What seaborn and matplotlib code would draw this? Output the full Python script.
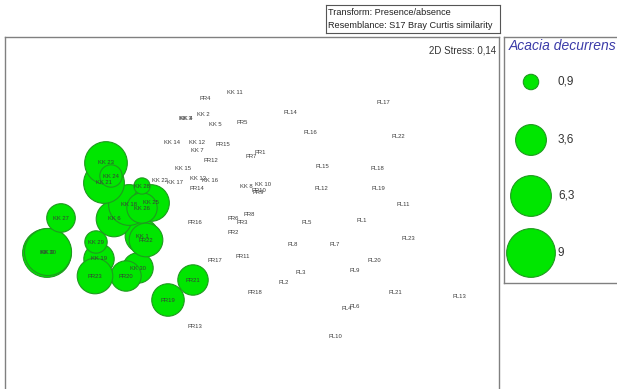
import matplotlib
matplotlib.use("Agg")
import matplotlib.pyplot as plt
import seaborn as sns
import pandas as pd

sns.set_theme(style="white")
plt.rcParams["font.family"] = ["Liberation Sans", "DejaVu Sans"]

# nMDS ordination coordinates (arbitrary units) and Acacia decurrens abundance
samples = ["KK 1", "KK 2", "KK 3", "KK 4", "KK 5", "KK 6", "KK 7", "KK 8", "KK 9", "KK 10",
           "KK 11", "KK 12", "KK 13", "KK 14", "KK 15", "KK 16", "KK 17", "KK 18", "KK 19", "KK 20",
           "KK 21", "KK 22", "KK 23", "KK 24", "KK 25", "KK 26", "KK 27", "KK 28", "KK 29", "KK 30",
           "PR1", "PR2", "PR3", "PR4", "PR5", "PR6", "PR7", "PR8", "PR9", "PR10",
           "PR11", "PR12", "PR13", "PR14", "PR15", "PR16", "PR17", "PR18", "PR19", "PR20",
           "PR21", "PR22", "PR23",
           "PL1", "PL2", "PL3", "PL4", "PL5", "PL6", "PL7", "PL8", "PL9", "PL10",
           "PL11", "PL12", "PL13", "PL14", "PL15", "PL16", "PL17", "PL18", "PL19", "PL20",
           "PL21", "PL22", "PL23"]
mds1 = [137, 198, 180, 181, 210, 109, 192, 241, 42, 258,
        230, 192, 193, 167, 178, 205, 170, 124, 94, 43,
        99, 155, 101, 106, 146, 137, 56, 137, 91, 133,
        255, 228, 237, 200, 237, 228, 246, 244, 253, 254,
        238, 206, 190, 192, 218, 190, 210, 250, 163, 121,
        188, 141, 90,
        357, 279, 296, 342, 302, 350, 330, 288, 350, 330,
        398, 316, 454, 285, 317, 305, 378, 372, 373, 369,
        390, 393, 403]
mds2 = [153, 275, 271, 271, 265, 170, 238, 202, 136, 205,
        297, 246, 211, 247, 221, 208, 207, 184, 130, 137,
        206, 209, 226, 213, 186, 181, 171, 203, 147, 121,
        237, 156, 166, 291, 266, 171, 232, 175, 196, 198,
        132, 229, 62, 200, 245, 166, 129, 96, 89, 113,
        109, 149, 113,
        169, 106, 116, 80, 166, 82, 144, 144, 118, 53,
        184, 200, 92, 276, 223, 257, 286, 220, 200, 129,
        96, 253, 150]
acacia = [4.3, 0, 0, 0, 0, 4.8, 0, 0, 9.0, 0,
          0, 0, 0, 0, 0, 0, 0, 6.3, 3.5, 8.4,
          6.3, 0, 6.9, 1.9, 5.1, 3.5, 3.1, 1.0, 1.9, 3.5,
          0, 0, 0, 0, 0, 0, 0, 0, 0, 0,
          0, 0, 0, 0, 0, 0, 0, 0, 4.0, 3.5,
          3.5, 4.3, 4.8,
          0, 0, 0, 0, 0, 0, 0, 0, 0, 0,
          0, 0, 0, 0, 0, 0, 0, 0, 0, 0,
          0, 0, 0]

legend_values = [0.9, 3.6, 6.3, 9]
legend_labels = ["0,9", "3,6", "6,3", "9"]
stress_label = "2D Stress: 0,14"
header_lines = ["Transform: Presence/absence", "Resemblance: S17 Bray Curtis similarity"]
species = "Acacia decurrens"

df = pd.DataFrame({"sample": samples, "x": mds1, "y": mds2, "value": acacia})
bubbles = df[df["value"] > 0]

GREEN = "#00e600"
EDGE = "#1f9a1f"
FRAME = "#808080"
SMAX = 1230  # marker area (pt^2) for the top of the size scale
W, H = 617, 389

fig = plt.figure(figsize=(W / 100, H / 100), dpi=100)

# ordination panel
ax = fig.add_axes([5 / W, 0, 494 / W, 352 / H])
sns.scatterplot(data=bubbles, x="x", y="y", size="value", sizes=(0, SMAX),
                size_norm=(0, 9), color=GREEN, edgecolor=EDGE, linewidth=0.8,
                alpha=1, legend=False, ax=ax, zorder=2)
for _, r in df.iterrows():
    ax.text(r["x"], r["y"], r["sample"], fontsize=4.2, color="#3a3a3a",
            ha="center", va="center", zorder=3)
ax.set_xlim(0, 494)
ax.set_ylim(0, 352)
ax.set_xlabel("")
ax.set_ylabel("")
ax.set_xticks([])
ax.set_yticks([])
for side in ["left", "top", "right"]:
    ax.spines[side].set_color(FRAME)
    ax.spines[side].set_linewidth(1.0)
ax.spines["bottom"].set_visible(False)
ax.text(0.994, 0.975, stress_label, transform=ax.transAxes, ha="right", va="top",
        fontsize=7, color="#333333")

# bubble size key
lax = fig.add_axes([504 / W, (389 - 283) / H, 120 / W, 246 / H])
key = pd.DataFrame({"x": [27] * 4, "y": [201, 143, 87, 30], "value": legend_values})
sns.scatterplot(data=key, x="x", y="y", size="value", sizes=(0, SMAX), size_norm=(0, 9),
                color=GREEN, edgecolor=EDGE, linewidth=0.8, alpha=1, legend=False,
                ax=lax, clip_on=False)
for yy, lab in zip(key["y"], legend_labels):
    lax.text(54, yy, lab, fontsize=8.5, color="#333333", ha="left", va="center")
lax.text(5, 237, species, fontsize=10, style="italic", color="#3b3ba8",
         ha="left", va="center")
lax.set_xlim(0, 120)
lax.set_ylim(0, 246)
lax.set_xlabel("")
lax.set_ylabel("")
lax.set_xticks([])
lax.set_yticks([])
for side in ["left", "top", "bottom"]:
    lax.spines[side].set_color(FRAME)
    lax.spines[side].set_linewidth(1.0)
lax.spines["right"].set_visible(False)

# analysis settings box
hax = fig.add_axes([326 / W, (389 - 33) / H, 174 / W, 28 / H])
hax.set_xticks([])
hax.set_yticks([])
for side in hax.spines.values():
    side.set_color("#555555")
    side.set_linewidth(0.8)
hax.text(0.012, 0.74, header_lines[0], transform=hax.transAxes, fontsize=6.6,
         color="#222222", ha="left", va="center")
hax.text(0.012, 0.27, header_lines[1], transform=hax.transAxes, fontsize=6.6,
         color="#222222", ha="left", va="center")

fig.savefig("out.png", dpi=100, facecolor="white")
